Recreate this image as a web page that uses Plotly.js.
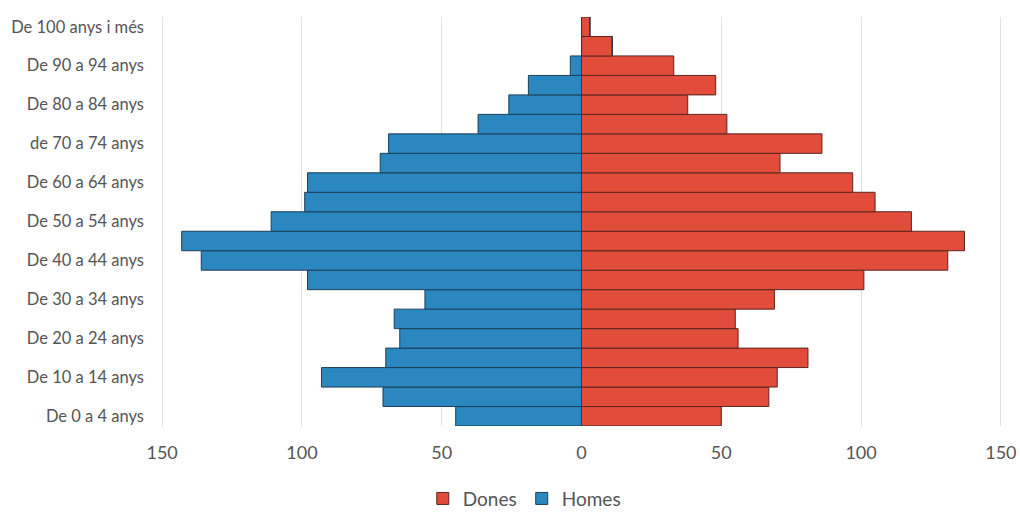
<!DOCTYPE html>
<html>
<head>
<meta charset="utf-8">
<script src="https://cdn.plot.ly/plotly-3.0.1.min.js"></script>
<style>html,body{margin:0;padding:0;background:#fff;}#chart{width:1020px;height:514px;}</style>
</head>
<body>
<div id="chart"></div>
<script>
const ageGroups = [
  "De 0 a 4 anys","De 5 a 9 anys","De 10 a 14 anys","De 15 a 19 anys","De 20 a 24 anys",
  "De 25 a 29 anys","De 30 a 34 anys","De 35 a 39 anys","De 40 a 44 anys","De 45 a 49 anys",
  "De 50 a 54 anys","De 55 a 59 anys","De 60 a 64 anys","De 65 a 69 anys","de 70 a 74 anys",
  "De 75 a 79 anys","De 80 a 84 anys","De 85 a 89 anys","De 90 a 94 anys","De 95 a 99 anys",
  "De 100 anys i més"
];
const dones = [50, 67, 70, 81, 56, 55, 69, 101, 131, 137, 118, 105, 97, 71, 86, 52, 38, 48, 33, 11, 3];
const homes = [45, 71, 93, 70, 65, 67, 56, 98, 136, 143, 111, 99, 98, 72, 69, 37, 26, 19, 4, 0, 0];
const shownLabels = ["De 0 a 4 anys","De 10 a 14 anys","De 20 a 24 anys","De 30 a 34 anys","De 40 a 44 anys",
  "De 50 a 54 anys","De 60 a 64 anys","de 70 a 74 anys","De 80 a 84 anys","De 90 a 94 anys","De 100 anys i més"];
const xTickVals = [-150, -100, -50, 0, 50, 100, 150];
const xTickText = ["150", "100", "50", "0", "50", "100", "150"];

const font = "Lato, 'Open Sans', sans-serif";
const traces = [
  {
    type: "bar", orientation: "h", name: "Dones",
    y: ageGroups, x: dones,
    marker: {color: "#e24c3b", line: {color: "#5b2520", width: 1}},
    hovertemplate: "%{y}: %{x}<extra>Dones</extra>"
  },
  {
    type: "bar", orientation: "h", name: "Homes",
    y: ageGroups, x: homes.map(v => -v),
    customdata: homes,
    marker: {color: "#2a87bf", line: {color: "#1d3f58", width: 1}},
    hovertemplate: "%{y}: %{customdata}<extra>Homes</extra>"
  }
];

const layout = {
  width: 1020, height: 514,
  margin: {l: 161, r: 18, t: 17, b: 88},
  paper_bgcolor: "#ffffff", plot_bgcolor: "#ffffff",
  barmode: "relative", bargap: 0,
  font: {family: font, color: "#555555", size: 14},
  xaxis: {
    range: [-150.4, 150.4],
    tickvals: xTickVals, ticktext: xTickText,
    showgrid: true, gridcolor: "#e2e2e2", gridwidth: 1,
    zeroline: false, showline: false, ticks: "",
    ticklabelstandoff: 14,
    tickfont: {size: 18, color: "#555555"},
    fixedrange: true
  },
  yaxis: {
    type: "category", categoryorder: "array", categoryarray: ageGroups,
    tickvals: shownLabels, ticktext: shownLabels,
    showgrid: false, zeroline: false, showline: false, ticks: "",
    ticklabelstandoff: 16,
    tickfont: {size: 16.5, color: "#555555"},
    fixedrange: true
  },
  showlegend: true,
  legend: {
    orientation: "h", xref: "container", yref: "container",
    x: 0.514, xanchor: "center", y: 0.03, yanchor: "middle",
    font: {size: 19, color: "#555555"},
    traceorder: "normal", itemwidth: 30
  }
};

Plotly.newPlot("chart", traces, layout, {displayModeBar: false, staticPlot: true});
</script>
</body>
</html>
